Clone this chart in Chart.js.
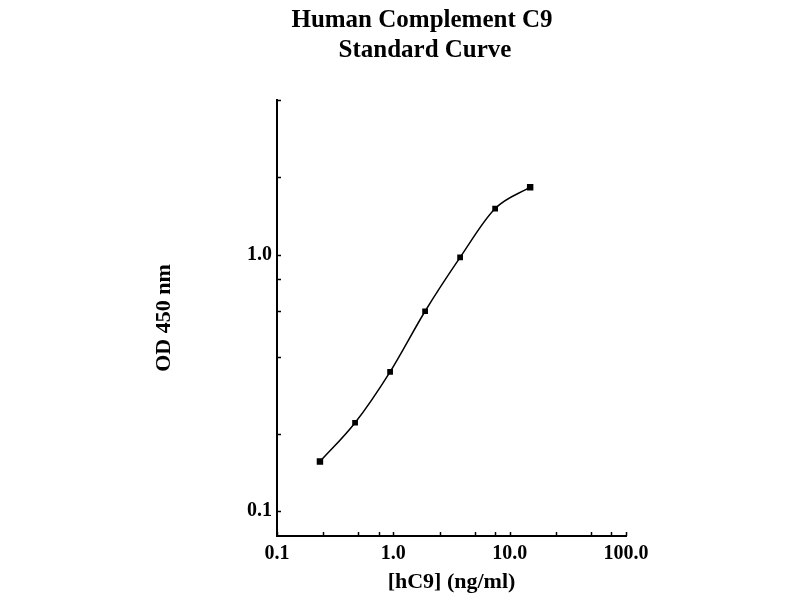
<!DOCTYPE html>
<html>
<head>
<meta charset="utf-8">
<script src="https://cdn.jsdelivr.net/npm/chart.js@4/dist/chart.umd.min.js"></script>
<style>
html,body{margin:0;padding:0;background:#fff;}
#wrap{width:800px;height:600px;}
</style>
</head>
<body>
<div id="wrap"><canvas id="c" width="800" height="600"></canvas></div>
<script>
// ---- data ----
const concentrations = [0.234, 0.469, 0.938, 1.875, 3.75, 7.5, 15];
const odValues = [0.156, 0.221, 0.349, 0.601, 0.974, 1.51, 1.83];
const xTickValues = [0.1, 0.25, 0.5, 0.75, 1, 2.5, 5, 7.5, 10, 25, 50, 75, 100];
const xTickLabels = {"0.1": "0.1", "1": "1.0", "10": "10.0", "100": "100.0"};
const yTickValues = [0.1, 0.2, 0.4, 0.6, 0.8, 1, 2, 4];
const yTickLabels = {"0.1": "0.1", "1": "1.0"};
const titleLines = ["Human Complement C9", "Standard Curve"];
const xAxisTitle = "[hC9] (ng/ml)";
const yAxisTitle = "OD 450 nm";

const FONT = "'Liberation Serif', 'Times New Roman', serif";

const points = concentrations.map((c, i) => ({x: c, y: odValues[i]}));

const titlePlugin = {
  id: 'titleLines',
  afterDraw(chart) {
    const ctx = chart.ctx;
    ctx.save();
    ctx.fillStyle = '#000';
    ctx.font = "bold 25px " + FONT;
    ctx.textAlign = 'center';
    ctx.textBaseline = 'middle';
    ctx.fillText(titleLines[0], 422, 21);
    ctx.fillText(titleLines[1], 425, 51);
    ctx.restore();
  }
};

const inwardTicks = {
  id: 'inwardTicks',
  afterDraw(chart) {
    const ctx = chart.ctx;
    const xs = chart.scales.x, ys = chart.scales.y;
    ctx.save();
    ctx.strokeStyle = '#000';
    ctx.lineWidth = 1.5;
    xs.ticks.forEach(t => {
      const px = Math.round(xs.getPixelForValue(t.value)) + 0.5;
      ctx.beginPath();
      ctx.moveTo(px, xs.top);
      ctx.lineTo(px, xs.top - 4);
      ctx.stroke();
    });
    ys.ticks.forEach(t => {
      const py = Math.round(ys.getPixelForValue(t.value)) + 0.5;
      ctx.beginPath();
      ctx.moveTo(ys.right, py);
      ctx.lineTo(ys.right + 4, py);
      ctx.stroke();
    });
    ctx.restore();
  }
};

new Chart(document.getElementById('c'), {
  type: 'line',
  data: {
    datasets: [{
      data: points,
      borderColor: '#000',
      backgroundColor: '#000',
      borderWidth: 1.5,
      pointStyle: 'rect',
      pointRadius: [3.5, 3, 3, 3, 3, 3, 3.5],
      pointBackgroundColor: '#000',
      pointBorderColor: '#000',
      cubicInterpolationMode: 'monotone',
      fill: false
    }]
  },
  options: {
    responsive: false,
    animation: false,
    layout: {padding: {top: 100, left: 145, right: 174, bottom: 0}},
    plugins: {legend: {display: false}, title: {display: false}, tooltip: {enabled: false}},
    scales: {
      x: {
        type: 'logarithmic',
        min: 0.1,
        max: 100,
        afterBuildTicks(scale) { scale.ticks = xTickValues.map(v => ({value: v})); },
        afterFit(scale) { scale.height = 64; scale.paddingLeft = 0; scale.paddingRight = 0; },
        ticks: {
          autoSkip: false,
          maxRotation: 0,
          padding: 6,
          color: '#000',
          font: {family: FONT, size: 20, weight: 'bold'},
          callback: (v) => xTickLabels[String(v)] || ''
        },
        grid: {display: false, drawTicks: false},
        border: {display: true, color: '#000', width: 2},
        title: {display: true, text: xAxisTitle, color: '#000', font: {family: FONT, size: 22, weight: 'bold'}, padding: {top: 0, bottom: 4}}
      },
      y: {
        type: 'logarithmic',
        min: 0.08,
        max: 4,
        afterBuildTicks(scale) { scale.ticks = yTickValues.map(v => ({value: v})); },
        afterFit(scale) { scale.width = 132; scale.paddingTop = 0; scale.paddingBottom = 0; },
        ticks: {
          autoSkip: false,
          padding: 5,
          color: '#000',
          font: {family: FONT, size: 20, weight: 'bold'},
          callback: (v) => yTickLabels[String(v)] || ''
        },
        grid: {display: false, drawTicks: false},
        border: {display: true, color: '#000', width: 2},
        title: {display: true, text: yAxisTitle, color: '#000', font: {family: FONT, size: 22, weight: 'bold'}, padding: {top: 6, bottom: 0}}
      }
    }
  },
  plugins: [titlePlugin, inwardTicks]
});
</script>
</body>
</html>
